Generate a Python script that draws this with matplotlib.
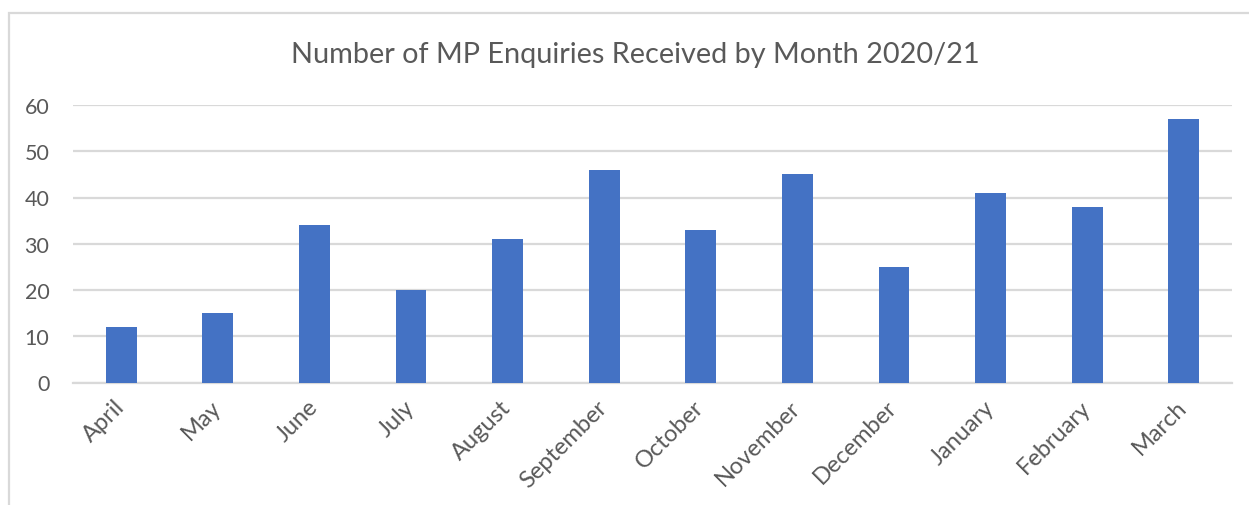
import matplotlib
matplotlib.use("Agg")
import matplotlib.pyplot as plt
from matplotlib.patches import Rectangle

months = ["April", "May", "June", "July", "August", "September", "October",
          "November", "December", "January", "February", "March"]
enquiries = [12, 15, 34, 20, 31, 46, 33, 45, 25, 41, 38, 57]
yticks = [0, 10, 20, 30, 40, 50, 60]
title = "Number of MP Enquiries Received by Month 2020/21"

plt.rcParams['font.family'] = ['Lato', 'DejaVu Sans']
W, H = 1249, 506
fig = plt.figure(figsize=(W / 100, H / 100), dpi=100)
fig.patch.set_facecolor("white")

# outer chart border (light gray)
fig.patches.append(Rectangle((9 / W, -0.1), 1.2, (H - 14) / H + 0.1,
                             transform=fig.transFigure, fill=False,
                             edgecolor="#D9D9D9", lw=1.6))

ax = fig.add_axes([73 / W, (H - 383.5) / H, (1232 - 73) / W, (383.5 - 106) / H])
x = list(range(len(months)))
ax.bar(x, enquiries, width=0.32, color="#4472C4", zorder=3)
ax.set_xlim(-0.5, len(months) - 0.5)
ax.set_ylim(0, 60)
ax.set_yticks(yticks)
ax.set_xticks(x)
ax.set_xticklabels(months, rotation=45, ha="right", va="center",
                   rotation_mode="anchor")
for s in ["top", "right", "left"]:
    ax.spines[s].set_visible(False)
ax.spines["bottom"].set_color("#D9D9D9")
ax.spines["bottom"].set_linewidth(1.6)
ax.grid(axis="y", color="#D9D9D9", lw=1.6, zorder=0)
ax.tick_params(axis="both", length=0, colors="#595959")
ax.tick_params(axis="y", pad=17, labelsize=15.5)
ax.tick_params(axis="x", pad=15, labelsize=17)

fig.text(635.5 / W, (H - 55) / H, title, ha="center", va="center",
         fontsize=20.8, color="#595959")

fig.savefig("out.png", dpi=100, facecolor="white")
